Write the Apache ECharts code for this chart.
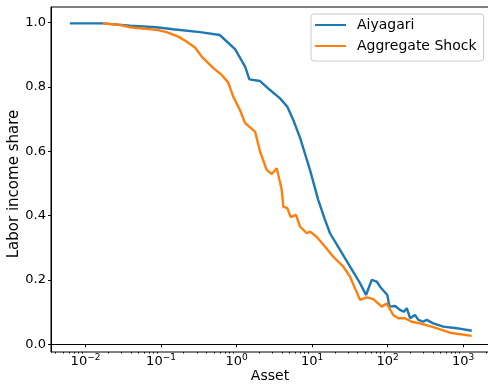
<!DOCTYPE html>
<html>
<head>
<meta charset="utf-8">
<script src="https://cdn.jsdelivr.net/npm/echarts@6/dist/echarts.min.js"></script>
<style>
    html, body { margin: 0; padding: 0; background: #fff; }
    #chart { width: 488px; height: 384px; }
</style>
</head>
<body>
<div id="chart"></div>
<script>
    // Aiyagari curve (asset, labor income share)
    var assetAiy = [0.0062, 0.017, 0.039, 0.086, 0.144, 0.329, 0.60, 0.955, 1.30, 1.48, 2.05, 2.78, 3.77, 4.71, 5.65, 6.93, 9.40, 12.1, 14.9, 17.3, 23.5, 31.9, 43.2, 51.9, 61.8, 71.9, 79.6, 99.4, 106, 126, 146, 165, 180, 199, 231, 256, 298, 330, 404, 548, 826, 1304];
    var shareAiy = [0.997, 0.997, 0.990, 0.985, 0.979, 0.970, 0.961, 0.917, 0.863, 0.823, 0.818, 0.790, 0.764, 0.738, 0.697, 0.642, 0.542, 0.448, 0.386, 0.345, 0.293, 0.241, 0.190, 0.153, 0.200, 0.195, 0.179, 0.153, 0.117, 0.119, 0.107, 0.101, 0.112, 0.081, 0.091, 0.076, 0.070, 0.076, 0.065, 0.055, 0.050, 0.042];

    // Aggregate shock curve
    var assetAgg = [0.017, 0.0286, 0.039, 0.0527, 0.0877, 0.119, 0.170, 0.219, 0.282, 0.346, 0.493, 0.637, 0.778, 0.907, 1.11, 1.30, 1.76, 2.05, 2.51, 2.93, 3.41, 3.97, 4.17, 4.71, 5.22, 6.14, 6.93, 8.51, 9.41, 11.5, 14.9, 19.1, 26.0, 31.9, 43.2, 53.0, 64.9, 83.8, 97.5, 119, 139, 171, 209, 269, 404, 673, 1304];
    var shareAgg = [0.997, 0.992, 0.985, 0.982, 0.977, 0.970, 0.956, 0.940, 0.922, 0.894, 0.858, 0.837, 0.813, 0.769, 0.728, 0.687, 0.661, 0.599, 0.542, 0.529, 0.547, 0.480, 0.428, 0.423, 0.395, 0.402, 0.366, 0.345, 0.350, 0.334, 0.303, 0.272, 0.241, 0.210, 0.138, 0.146, 0.140, 0.117, 0.127, 0.091, 0.081, 0.081, 0.070, 0.065, 0.053, 0.036, 0.026];

    var xTicks = [0.01, 0.1, 1, 10, 100, 1000];
    var xTickLabels = ['{b|10}{s|−2}', '{b|10}{s|−1}', '{b|10}{s|0}', '{b|10}{s|1}', '{b|10}{s|2}', '{b|10}{s|3}'];
    var yTicks = [0, 0.2, 0.4, 0.6, 0.8, 1.0];

    var minorTicks = [];
    for (var k = -3; k <= 3; k++) {
        for (var m = 2; m <= 9; m++) {
            var v = m * Math.pow(10, k);
            if (v > 0.0035 && v < 2200) minorTicks.push(v);
        }
    }

    function pairs(xs, ys) {
        return xs.map(function (x, i) { return [x, ys[i]]; });
    }

    var xMin = 0.00349, xMax = 2208;
    var font = 'DejaVu Sans';

    var chart = echarts.init(document.getElementById('chart'));
    chart.setOption({
        animation: false,
        textStyle: { fontFamily: font },
        grid: {
            left: 51, right: -1, top: 7, bottom: 32,
            containLabel: false, outerBoundsMode: 'none',
            show: true, borderColor: '#000', borderWidth: 1
        },
        legend: {
            orient: 'vertical',
            left: 311, top: 14,
            padding: [1, 7, 5, 4],
            itemWidth: 31, itemHeight: 2, itemGap: 1,
            backgroundColor: 'rgba(255,255,255,0.8)',
            borderColor: '#cccccc', borderWidth: 1, borderRadius: 3,
            textStyle: { fontFamily: font, fontSize: 14, lineHeight: 20, color: '#000', padding: [0, 0, 0, 6] },
            data: [
                { name: 'Aiyagari', icon: 'rect' },
                { name: 'Aggregate Shock', icon: 'rect' }
            ]
        },
        xAxis: [{
            type: 'log', logBase: 10, min: xMin, max: xMax,
            name: 'Asset', nameLocation: 'middle', nameGap: 17, nameMoveOverlap: false,
            nameTextStyle: { fontFamily: font, fontSize: 14, color: '#000' },
            axisLine: { lineStyle: { color: '#000', width: 1 } },
            axisTick: { customValues: xTicks, length: 3, lineStyle: { color: '#000' } },
            axisLabel: {
                customValues: xTicks,
                margin: 1,
                formatter: function (val) {
                    var i = xTicks.findIndex(function (t) { return Math.abs(Math.log10(t) - Math.log10(val)) < 1e-6; });
                    return i >= 0 ? xTickLabels[i] : '';
                },
                rich: {
                    b: { fontFamily: font, fontSize: 13, lineHeight: 13, padding: [4, 0, 0, 0], color: '#000' },
                    s: { fontFamily: font, fontSize: 9, lineHeight: 9, verticalAlign: 'top', color: '#000' }
                }
            },
            splitLine: { show: false }
        }, {
            type: 'log', logBase: 10, min: xMin, max: xMax,
            position: 'bottom',
            axisLine: { show: false },
            axisTick: { customValues: minorTicks, length: 1.5, lineStyle: { color: '#000' } },
            axisLabel: { show: false },
            splitLine: { show: false }
        }],
        yAxis: {
            type: 'value', min: -0.024, max: 1.048,
            name: 'Labor income share', nameLocation: 'middle', nameGap: 29, nameMoveOverlap: false,
            nameTextStyle: { fontFamily: font, fontSize: 15, color: '#000', padding: [0, 9, 0, 0] },
            axisLine: { show: true, lineStyle: { color: '#000', width: 1 } },
            axisTick: { show: true, customValues: yTicks, length: 3, lineStyle: { color: '#000' } },
            axisLabel: {
                customValues: yTicks, margin: 5,
                fontFamily: font, fontSize: 13, color: '#000',
                formatter: function (v) { return v.toFixed(1); }
            },
            splitLine: { show: false }
        },
        series: [{
            name: 'Aiyagari', type: 'line', xAxisIndex: 0,
            showSymbol: false, symbol: 'none',
            color: '#1f77b4',
            lineStyle: { width: 2.4, color: '#1f77b4' },
            data: pairs(assetAiy, shareAiy)
        }, {
            name: 'Aggregate Shock', type: 'line', xAxisIndex: 0,
            showSymbol: false, symbol: 'none',
            color: '#ff7f0e',
            lineStyle: { width: 2.4, color: '#ff7f0e' },
            data: pairs(assetAgg, shareAgg)
        }]
    });
</script>
</body>
</html>
